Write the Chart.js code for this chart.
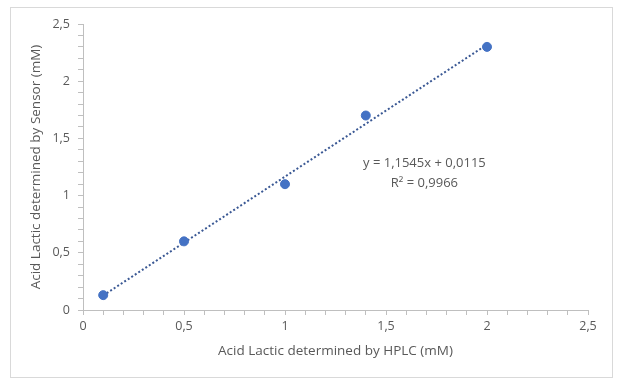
<!DOCTYPE html>
<html>
<head>
<meta charset="utf-8">
<script src="https://cdn.jsdelivr.net/npm/chart.js@4"></script>
<style>
html,body{margin:0;padding:0;background:#fff;}
#wrap{position:relative;width:627px;height:384px;}
</style>
</head>
<body>
<div id="wrap"><canvas id="c" width="627" height="384"></canvas></div>
<script>
// Data
const hplcValues = [0.1, 0.5, 1, 1.4, 2];
const sensorValues = [0.13, 0.6, 1.1, 1.7, 2.3];
const trendX = [0.1, 2];
const trendY = [0.127, 2.32];
const tickLabels = ['0', '0,5', '1', '1,5', '2', '2,5'];
const equationLines = ['y = 1,1545x + 0,0115', 'R\u00B2 = 0,9966'];
const equationPos = {x: 1.69, y: 1.285, y2: 1.11};
const xTitle = 'Acid Lactic determined by HPLC (mM)';
const yTitle = 'Acid Lactic determined by Sensor (mM)';

const FONT = "'Open Sans', sans-serif";
const TXT = '#595959';
const AX = '#bfbfbf';

function tickCb(value) {
  const v = Math.round(value * 10) / 10;
  const k = Math.round(v * 2);
  if (Math.abs(v * 2 - k) < 1e-6 && k >= 0 && k < tickLabels.length) return tickLabels[k];
  return '';
}

const borderPlugin = {
  id: 'outerBorder',
  beforeDraw(chart) {
    const ctx = chart.ctx;
    ctx.save();
    ctx.fillStyle = '#fff';
    ctx.fillRect(0, 0, chart.width, chart.height);
    ctx.strokeStyle = '#d9d9d9';
    ctx.lineWidth = 1;
    ctx.strokeRect(10.5, 7.5, 602, 370);
    ctx.restore();
  }
};

const eqPlugin = {
  id: 'equation',
  afterDatasetsDraw(chart) {
    const ctx = chart.ctx;
    const xs = chart.scales.x, ys = chart.scales.y;
    ctx.save();
    ctx.fillStyle = TXT;
    ctx.font = "13px " + FONT;
    ctx.textAlign = 'center';
    ctx.textBaseline = 'middle';
    const px = xs.getPixelForValue(equationPos.x);
    ctx.fillText(equationLines[0], px, ys.getPixelForValue(equationPos.y));
    ctx.fillText(equationLines[1], px, ys.getPixelForValue(equationPos.y2));
    ctx.restore();
  }
};

new Chart(document.getElementById('c'), {
  type: 'scatter',
  data: {
    datasets: [
      {
        type: 'line',
        data: trendX.map((x, i) => ({x: x, y: trendY[i]})),
        borderColor: '#3a5894',
        borderWidth: 2,
        borderDash: [2, 2.2],
        borderCapStyle: 'butt',
        pointRadius: 0,
        fill: false,
        order: 2
      },
      {
        data: hplcValues.map((x, i) => ({x: x, y: sensorValues[i]})),
        backgroundColor: '#4472c4',
        borderColor: '#4472c4',
        pointRadius: 4.5,
        pointHoverRadius: 4.5,
        order: 1
      }
    ]
  },
  options: {
    responsive: false,
    animation: false,
    events: [],
    layout: {padding: {left: 24, right: 39, top: 24, bottom: 21}},
    plugins: {legend: {display: false}, tooltip: {enabled: false}},
    scales: {
      x: {
        type: 'linear', min: 0, max: 2.5,
        afterFit(s) { s.height = 53; },
        grid: {drawOnChartArea: false, drawTicks: true, tickLength: 5, color: AX},
        border: {color: AX, width: 1},
        ticks: {stepSize: 0.1, autoSkip: false, maxRotation: 0, padding: 4, color: TXT, font: {family: FONT, size: 12.5}, callback: tickCb},
        title: {display: true, text: xTitle, color: TXT, font: {family: FONT, size: 13.5}, padding: 4}
      },
      y: {
        type: 'linear', min: 0, max: 2.5,
        afterFit(s) { s.width = 59; },
        grid: {drawOnChartArea: false, drawTicks: true, tickLength: 5, color: AX},
        border: {color: AX, width: 1},
        ticks: {stepSize: 0.1, autoSkip: false, padding: 8, color: TXT, font: {family: FONT, size: 12.5}, callback: tickCb},
        title: {display: true, text: yTitle, color: TXT, font: {family: FONT, size: 13.5}, padding: 4}
      }
    }
  },
  plugins: [borderPlugin, eqPlugin]
});
</script>
</body>
</html>
